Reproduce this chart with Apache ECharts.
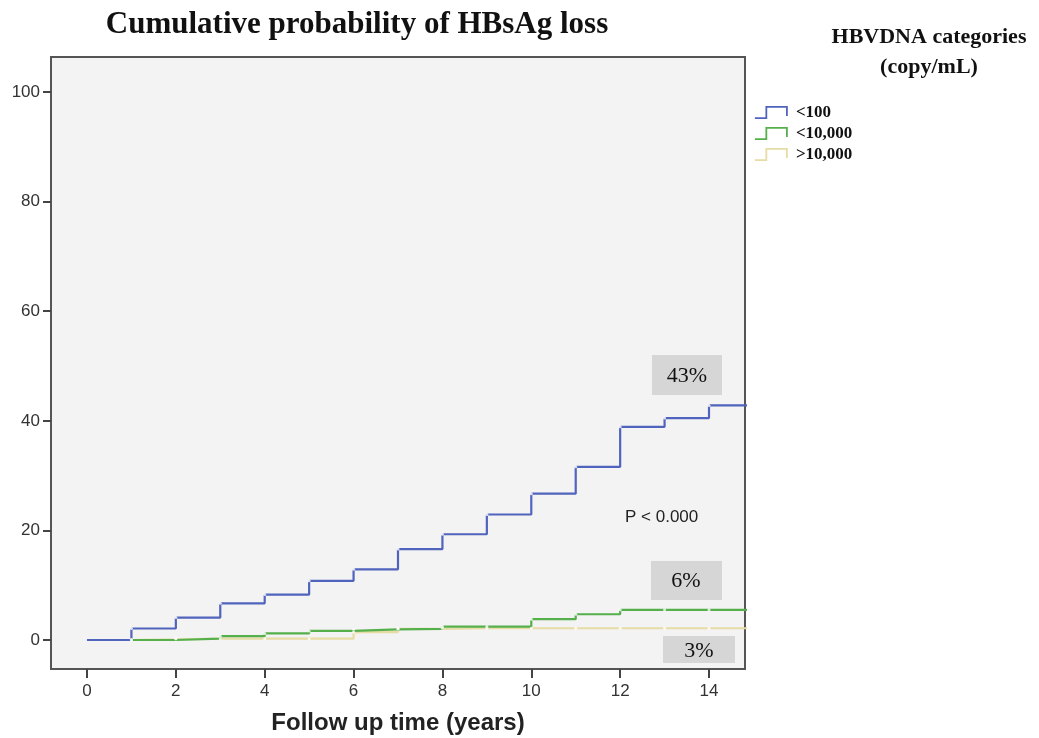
<!DOCTYPE html>
<html>
<head>
<meta charset="utf-8">
<script src="https://cdn.jsdelivr.net/npm/echarts@6/dist/echarts.min.js"></script>
<style>
html,body{margin:0;padding:0;background:#fff;}
#chart{width:1039px;height:738px;}
</style>
</head>
<body>
<div id="chart"></div>
<script>
// ---- data ----
const years = [0, 1, 2, 3, 4, 5, 6, 7, 8, 9, 10, 11, 12, 13, 14, 15];
const seriesNames = ['<100', '<10,000', '>10,000'];
const lt100 = [0, 2.1, 4.1, 6.7, 8.3, 10.8, 12.9, 16.6, 19.3, 22.9, 26.7, 31.6, 38.9, 40.5, 42.8, 42.8];
const lt10000 = [0, 0, 0.25, 0.7, 1.2, 1.65, 1.95, 2.05, 2.45, 2.45, 3.8, 4.7, 5.5, 5.5, 5.5, 5.5];
const gt10000 = [0, 0.1, 0.25, 0.25, 0.25, 0.25, 1.45, 2.05, 2.15, 2.15, 2.15, 2.15, 2.15, 2.15, 2.15, 2.15];
const xTicks = [0, 2, 4, 6, 8, 10, 12, 14];
const yTicks = [0, 20, 40, 60, 80, 100];
const annotations = ['43%', '6%', '3%'];
const pText = 'P < 0.000';

const colors = ['#5164bd', '#55b04c', '#e6dca4'];
const allSeries = [lt100, lt10000, gt10000];

const chart = echarts.init(document.getElementById('chart'), null, {renderer: 'canvas'});

const lineSeries = allSeries.map((vals, i) => ({
  name: seriesNames[i],
  type: 'line',
  step: 'end',
  data: years.map((x, k) => [x, vals[k]]),
  showSymbol: false,
  clip: true,
  lineStyle: {color: colors[i], width: 2.2},
  itemStyle: {color: colors[i]},
  z: 10 - i
}));
const censorSeries = allSeries.map((vals, i) => ({
  type: 'scatter',
  data: years.filter(x => x >= 1 && x <= 14).map(x => [x, vals[years.indexOf(x)]]),
  symbol: 'circle',
  symbolSize: 3,
  itemStyle: {color: '#ffffff'},
  silent: true,
  z: 20
}));

const stepIcon = 'path://M0,12 L10,12 L10,2 L28,2 L28,10';

const boxStyle = {fill: '#d6d6d6'};
const annFont = '22px "Liberation Serif", serif';

const option = {
  animation: false,
  backgroundColor: '#ffffff',
  title: {
    text: 'Cumulative probability of HBsAg loss',
    left: 352, top: 4, textAlign: 'center',
    textStyle: {fontFamily: 'Liberation Serif', fontWeight: 'bold', fontSize: 31, color: '#111'}
  },
  grid: {
    left: 51, right: 294, top: 57, bottom: 69,
    outerBoundsMode: 'none',
    containLabel: false,
    show: true, backgroundColor: '#f3f3f3', borderColor: '#555', borderWidth: 2
  },
  legend: {
    orient: 'vertical',
    left: 749, top: 99,
    itemWidth: 32, itemHeight: 12, itemGap: 4,
    icon: stepIcon,
    data: seriesNames.map((n, i) => ({
      name: n,
      itemStyle: {color: 'rgba(0,0,0,0)', borderColor: colors[i], borderWidth: 1.8}
    })),
    textStyle: {fontFamily: 'Liberation Serif', fontWeight: 'bold', fontSize: 17, color: '#111', padding: [0, 0, 0, 4]}
  },
  xAxis: {
    type: 'value', min: -0.81, max: 14.81,
    splitLine: {show: false},
    axisLine: {show: true, onZero: false, lineStyle: {color: '#555', width: 2}},
    axisTick: {show: true, customValues: xTicks, length: 9, lineStyle: {color: '#444', width: 2}},
    axisLabel: {customValues: xTicks, margin: 14, fontFamily: 'Liberation Sans', fontSize: 17, color: '#333'},
    name: 'Follow up time (years)', nameLocation: 'middle', nameGap: 42,
    nameTextStyle: {fontFamily: 'Liberation Sans', fontWeight: 'bold', fontSize: 24, color: '#222'}
  },
  yAxis: {
    type: 'value', min: -5.29, max: 106.39,
    splitLine: {show: false},
    axisLine: {show: true, onZero: false, lineStyle: {color: '#555', width: 2}},
    axisTick: {show: true, customValues: yTicks, length: 8, lineStyle: {color: '#444', width: 2}},
    axisLabel: {customValues: yTicks, margin: 11, fontFamily: 'Liberation Sans', fontSize: 17, color: '#333'}
  },
  graphic: [
    {type: 'text', x: 929, y: 22, style: {text: 'HBVDNA categories\n(copy/mL)', align: 'center', font: 'bold 22px "Liberation Serif", serif', fill: '#111', lineHeight: 30}},
    {type: 'rect', shape: {x: 652, y: 355, width: 70, height: 40}, style: boxStyle, z: 5},
    {type: 'text', x: 687, y: 376, style: {text: annotations[0], align: 'center', verticalAlign: 'middle', font: annFont, fill: '#111'}, z: 6},
    {type: 'rect', shape: {x: 651, y: 561, width: 71, height: 39}, style: boxStyle, z: 5},
    {type: 'text', x: 686, y: 581, style: {text: annotations[1], align: 'center', verticalAlign: 'middle', font: annFont, fill: '#111'}, z: 6},
    {type: 'rect', shape: {x: 663, y: 636, width: 72, height: 27}, style: boxStyle, z: 5},
    {type: 'text', x: 699, y: 651, style: {text: annotations[2], align: 'center', verticalAlign: 'middle', font: annFont, fill: '#111'}, z: 6},
    {type: 'text', x: 625, y: 517, style: {text: pText, align: 'left', verticalAlign: 'middle', font: '17px "Liberation Sans", sans-serif', fill: '#222'}, z: 6}
  ],
  series: lineSeries.concat(censorSeries)
};
chart.setOption(option);
</script>
</body>
</html>
